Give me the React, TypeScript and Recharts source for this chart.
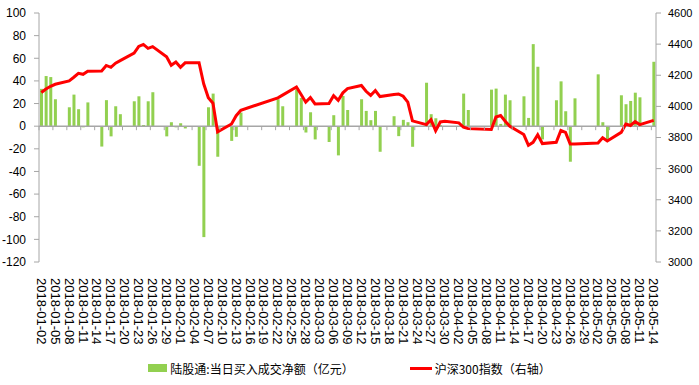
import React from "react";
import {
  ComposedChart,
  Bar,
  Line,
  XAxis,
  YAxis,
  ReferenceLine,
  Legend,
} from "recharts";

// A-share trading days (2018), MM-DD
const tradeDates = [
  "01-02", "01-03", "01-04", "01-05", "01-08", "01-09", "01-10", "01-11", "01-12",
  "01-15", "01-16", "01-17", "01-18", "01-19", "01-22", "01-23", "01-24", "01-25",
  "01-26", "01-29", "01-30", "01-31", "02-01", "02-02", "02-05", "02-06", "02-07",
  "02-08", "02-09", "02-12", "02-13", "02-14", "02-22", "02-23", "02-26", "02-27",
  "02-28", "03-01", "03-02", "03-05", "03-06", "03-07", "03-08", "03-09", "03-12",
  "03-13", "03-14", "03-15", "03-16", "03-19", "03-20", "03-21", "03-22", "03-23",
  "03-26", "03-27", "03-28", "03-29", "03-30", "04-02", "04-03", "04-04", "04-09",
  "04-10", "04-11", "04-12", "04-13", "04-16", "04-17", "04-18", "04-19", "04-20",
  "04-23", "04-24", "04-25", "04-26", "04-27", "05-02", "05-03", "05-04", "05-07",
  "05-08", "05-09", "05-10", "05-11", "05-14",
];

// 陆股通 daily net buy (亿元); null = northbound closed
const northboundNet = [
  33, 44.3, 43.4, 23.8, 16.7, 27.9, 15, -1, 21,
  -18, 23, -9, 17.6, 10.6, 22, 26.4, 1, 22,
  30, -9, 3.5, -1, 2.6, -2, -35, -98, 16.7,
  28.8, -27, -13, -9.4, 12, 23.8, 17.6, 32.5, 25,
  -5.6, 12.3, -11.7, -14, 9.7, -25.8, 26.7, 14.3, 23.8,
  13.5, 5.3, 13.5, -22.6, 8.8, -8.8, 5.6, 3.5, -18.2,
  38.4, 10.6, 7, 1, null, null, 28.8, 14.3, 32.3,
  33.2, 2, 27.9, 22.9, 26.4, 7.3, 72.5, 52.5, -11.7,
  22.9, 39.6, 13.2, -31.4, 24.6, 45.8, 3.5, -12, 27.3,
  19.4, 22.3, 29.6, 25.5, 56.9,
];

// 沪深300 close
const csi300 = [
  4089, 4112, 4129, 4142, 4164, 4187, 4212, 4206, 4226,
  4227, 4263, 4251, 4278, 4294, 4342, 4385, 4398, 4373,
  4384, 4318, 4264, 4285, 4251, 4280, 4281, 4145, 4055,
  4020, 3836, 3887, 3940, 3975, 4055, 4072, 4125, 4076,
  4027, 4057, 4016, 4018, 4069, 4039, 4087, 4114, 4134,
  4097, 4071, 4102, 4063, 4076, 4080, 4065, 4027, 3907,
  3883, 3915, 3844, 3900, 3904, 3894, 3867, 3857, 3851,
  3932, 3941, 3904, 3872, 3819, 3750, 3769, 3817, 3761,
  3769, 3845, 3833, 3758, 3758, 3765, 3799, 3778, 3833,
  3887, 3877, 3902, 3883, 3910,
];

const leftTicks = [-120, -100, -80, -60, -40, -20, 0, 20, 40, 60, 80, 100];
const rightTicks = [3000, 3200, 3400, 3600, 3800, 4000, 4200, 4400, 4600];

const GREEN = "#92D050";
const RED = "#FF0000";
const AXIS = "#A6A6A6";

const W = 699;
const H = 385;
const TOP = 13;
const LEFT_W = 39;
const RIGHT_W = 43;
const LEGEND_H = 34;
const XAXIS_H = 89;
const PLOT_H = H - TOP - LEGEND_H - XAXIS_H;
const ZERO_Y = TOP + (PLOT_H * 100) / 220;

// every calendar day between first and last date (Excel date axis)
const days: string[] = [];
for (
  let t = Date.UTC(2018, 0, 2);
  t <= Date.UTC(2018, 4, 14);
  t += 86400000
) {
  days.push(new Date(t).toISOString().slice(0, 10));
}
const BAND = (W - LEFT_W - RIGHT_W) / days.length;

const data = days.map((d) => {
  const i = tradeDates.indexOf(d.slice(5));
  return {
    date: d,
    nb: i >= 0 ? northboundNet[i] : null,
    csi: i >= 0 ? csi300[i] : null,
  };
});

const DateTick = (props: any) => {
  const { x, y, payload } = props;
  const ty = y + 16;
  const tx = x - BAND / 2;
  return (
    <g>
      <line x1={tx} x2={tx} y1={ZERO_Y} y2={ZERO_Y + 4} stroke={AXIS} />
      <text
        x={x}
        y={ty}
        dy="0.35em"
        transform={`rotate(90 ${x} ${ty})`}
        textAnchor="start"
        fontSize={13}
        fill="#000"
      >
        {payload.value}
      </text>
    </g>
  );
};

const renderLegend = () => (
  <div
    style={{
      display: "flex",
      justifyContent: "center",
      alignItems: "center",
      height: LEGEND_H,
      fontSize: 12,
      fontFamily: "'Noto Sans CJK SC', sans-serif",
      color: "#000",
    }}
  >
    <span
      style={{ display: "inline-block", width: 19, height: 8, background: GREEN, marginRight: 3 }}
    />
    <span>陆股通:当日买入成交净额（亿元）</span>
    <span style={{ display: "inline-block", width: 56 }} />
    <span
      style={{ display: "inline-block", width: 22, height: 3, background: RED, marginRight: 3 }}
    />
    <span>沪深300指数（右轴）</span>
  </div>
);

export default function App() {
  return (
    <div style={{ position: "absolute", left: 0, top: 0, background: "#fff" }}>
      <ComposedChart
        width={W}
        height={H}
        data={data}
        margin={{ top: TOP, right: 0, bottom: 0, left: 0 }}
        style={{ fontFamily: "'Liberation Sans', Arial, sans-serif" }}
      >
        <XAxis
          dataKey="date"
          interval={2}
          tick={<DateTick />}
          axisLine={false}
          tickLine={false}
          tickSize={0}
          tickMargin={0}
          height={XAXIS_H}
        />
        <YAxis
          yAxisId="left"
          orientation="left"
          width={LEFT_W}
          domain={[-120, 100]}
          ticks={leftTicks}
          interval={0}
          stroke={AXIS}
          tickSize={5}
          tickMargin={8}
          tick={{ fill: "#000", fontSize: 12 }}
        />
        <YAxis
          yAxisId="right"
          orientation="right"
          width={RIGHT_W}
          domain={[3000, 4600]}
          ticks={rightTicks}
          interval={0}
          stroke={AXIS}
          tickSize={5}
          tickMargin={7}
          tick={{ fill: "#000", fontSize: 11, textAnchor: "start" }}
        />
        <ReferenceLine yAxisId="left" y={0} stroke={AXIS} strokeWidth={1.5} />
        <Bar
          yAxisId="left"
          dataKey="nb"
          fill={GREEN}
          barSize={3}
          isAnimationActive={false}
        />
        <Line
          yAxisId="right"
          dataKey="csi"
          stroke={RED}
          strokeWidth={3}
          dot={false}
          connectNulls
          isAnimationActive={false}
        />
        <Legend verticalAlign="bottom" height={LEGEND_H} content={renderLegend} />
      </ComposedChart>
    </div>
  );
}
